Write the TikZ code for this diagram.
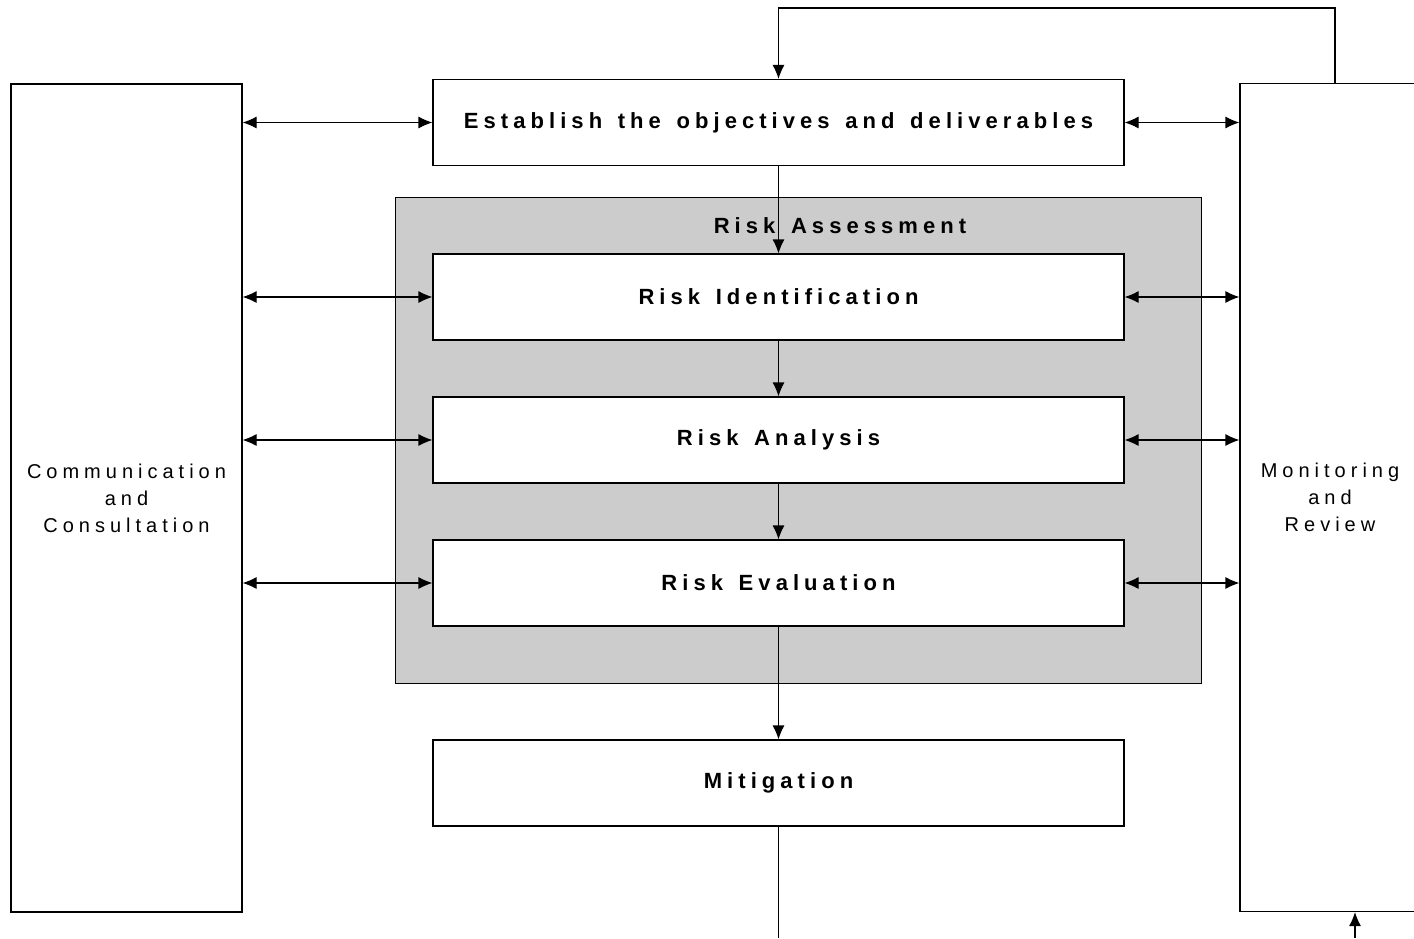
\documentclass[tikz,border=0pt]{standalone}
\usepackage{fontspec}
\setmainfont{Liberation Sans}
\newfontfamily\stepfont[LetterSpace=23,WordSpace=1.4]{Liberation Sans}
\newfontfamily\sidefont[LetterSpace=25]{Liberation Sans}
\usepackage{tikz}
\usetikzlibrary{arrows.meta}

\tikzset{
  stepbox/.style={draw,line width=0.55pt,fill=white,minimum width=345.5pt,minimum height=43pt,
    font=\stepfont\bfseries\fontsize{11}{13}\selectfont},
  sidebox/.style={draw,line width=0.55pt,fill=white,minimum height=414pt,align=center,
    font=\sidefont\fontsize{10}{13.5}\selectfont},
  link/.style={line width=0.55pt,<->,>={Latex[length=7pt,width=6pt]}},
  flow/.style={line width=0.55pt,->,>={Latex[length=7pt,width=6pt]}}
}

\begin{document}
\begin{tikzpicture}[x=0.5pt,y=-0.5pt]
  \useasboundingbox (0,0) rectangle (1414,938);
  \node[draw,line width=0.5pt,fill=black!20,minimum width=403pt,minimum height=243pt] (assess) at (798,440) {};
  \node[font=\stepfont\bfseries\fontsize{11}{13}\selectfont] (title) at (840,226) {Risk Assessment};
  \node[stepbox] (est) at (778.5,122.5) {Establish the objectives and deliverables};
  \node[stepbox] (ident) at (778.5,297) {Risk Identification};
  \node[stepbox] (anal) at (778.5,440) {Risk Analysis};
  \node[stepbox] (eval) at (778.5,583) {Risk Evaluation};
  \node[stepbox] (mit) at (778.5,783) {Mitigation};
  \node[sidebox,minimum width=115.5pt] (comm) at (126.5,498) {Communication\\and\\Consultation};
  \node[sidebox,minimum width=90pt] (mon) at (1330,497.5) {Monitoring\\and\\Review};
  \coordinate (out) at (778.5,938);
  \coordinate (feed) at (1355,938);

  \draw[flow] (est) -- (ident);
  \draw[flow] (ident) -- (anal);
  \draw[flow] (anal) -- (eval);
  \draw[flow] (eval) -- (mit);
  \draw[line width=0.55pt] (mit) -- (out);
  \draw[flow] (mon.north) ++(5,0) -- ++(0,-75) -| (est.north);
  \draw[flow] (feed) -- (feed |- mon.south);
  \foreach \s in {est,ident,anal,eval}{
    \draw[link] (comm.east |- \s.west) -- (\s.west);
    \draw[link] (\s.east) -- (mon.west |- \s.east);
  }
\end{tikzpicture}
\end{document}
